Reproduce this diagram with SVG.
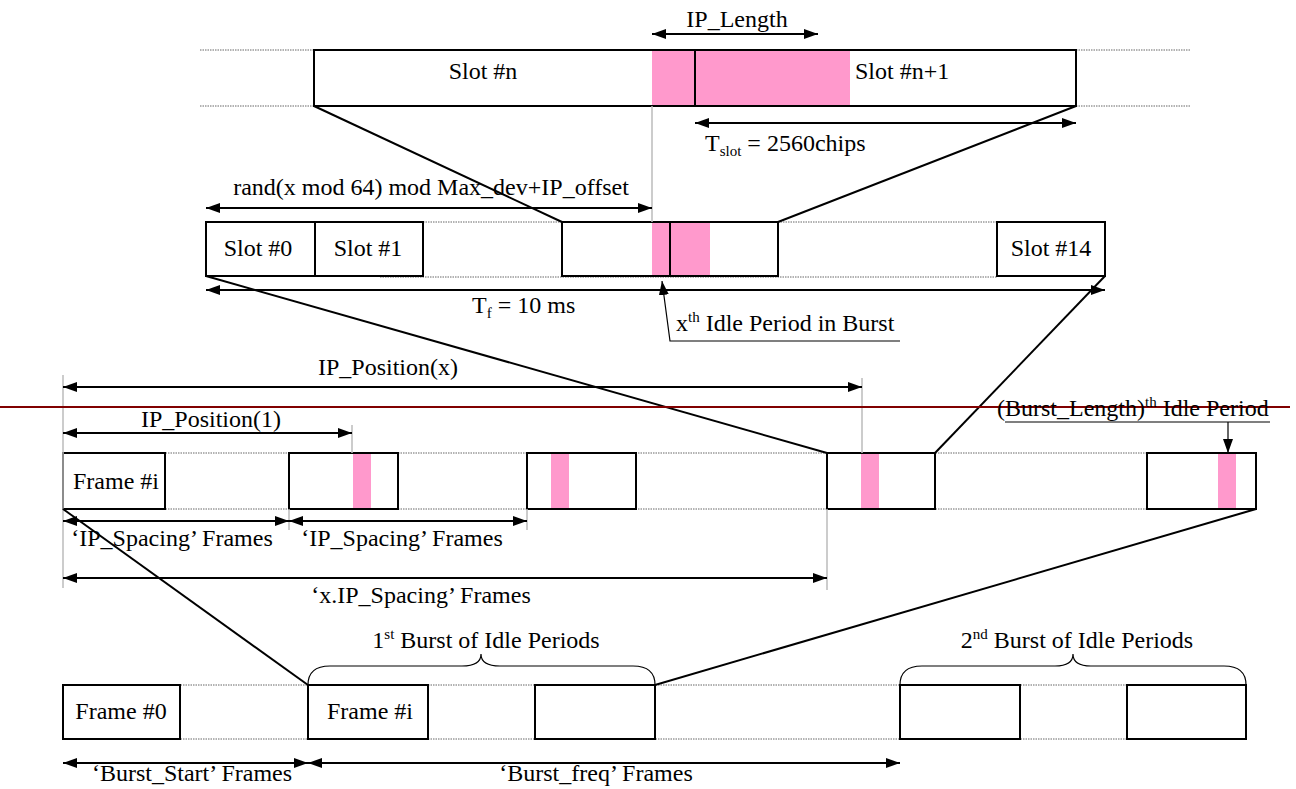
<svg xmlns="http://www.w3.org/2000/svg" width="1296" height="789" viewBox="0 0 1296 789">
<defs>
<marker id="ah" viewBox="0 0 14 10" refX="14" refY="5" markerWidth="14" markerHeight="10" markerUnits="userSpaceOnUse" orient="auto-start-reverse"><path d="M0,0 L14,5 L0,10 Z" fill="#000"/></marker>
<style>
text{font-family:"Liberation Serif","Times New Roman",serif;font-size:24px;fill:#000}
.sup{font-size:15px}
.box{fill:#fff;stroke:#000;stroke-width:2}
.pink{fill:#ff99cc;stroke:none}
.dot{stroke:#666;stroke-width:1;stroke-dasharray:1.5 1;fill:none}
.guide{stroke:#bbb;stroke-width:1.5;fill:none}
.conn{stroke:#000;stroke-width:2;fill:none}
.dim{stroke:#000;stroke-width:2;fill:none}
.thin{stroke:#000;stroke-width:1.2;fill:none}
</style>
</defs>
<rect width="1296" height="789" fill="#fff"/>

<!-- dotted guide lines -->
<g id="dotted">
<line class="dot" x1="200" y1="50" x2="314" y2="50"/>
<line class="dot" x1="200" y1="106" x2="314" y2="106"/>
<line class="dot" x1="1076" y1="50" x2="1190" y2="50"/>
<line class="dot" x1="1076" y1="106" x2="1190" y2="106"/>
<line class="dot" x1="423" y1="222" x2="997" y2="222"/>
<line class="dot" x1="380" y1="277" x2="997" y2="277"/>
<line class="dot" x1="63" y1="453" x2="1256" y2="453"/>
<line class="dot" x1="63" y1="509" x2="1256" y2="509"/>
<line class="dot" x1="63" y1="685" x2="1246" y2="685"/>
<line class="dot" x1="63" y1="739" x2="1246" y2="739"/>
</g>

<!-- top row -->
<g id="slot-n">
<rect class="box" x="314" y="50" width="762" height="56"/>
<rect class="pink" x="652" y="51" width="198" height="54"/>
<line x1="695" y1="50" x2="695" y2="106" stroke="#000" stroke-width="2"/>
<text x="483" y="79" text-anchor="middle">Slot #n</text>
<text x="855" y="79">Slot #n+1</text>
</g>

<!-- middle row -->
<g id="slot-0"><rect class="box" x="206" y="222" width="109" height="54"/><text x="258" y="256" text-anchor="middle">Slot #0</text></g>
<g id="slot-1"><rect class="box" x="315" y="222" width="108" height="54"/><text x="368" y="256" text-anchor="middle">Slot #1</text></g>
<g id="slot-mid">
<rect class="box" x="562" y="222" width="216" height="54"/>
<rect class="pink" x="652" y="223" width="58" height="52"/>
<line x1="670" y1="222" x2="670" y2="276" stroke="#000" stroke-width="2"/>
</g>
<g id="slot-14"><rect class="box" x="997" y="222" width="108" height="54"/><text x="1051" y="256" text-anchor="middle">Slot #14</text></g>

<!-- third row -->
<g id="frame-i"><rect class="box" x="63" y="453" width="102" height="56"/><text x="73" y="489">Frame #i</text></g>
<g id="frame-2"><rect class="box" x="289" y="453" width="109" height="56"/><rect class="pink" x="353" y="454" width="18" height="54"/></g>
<g id="frame-3"><rect class="box" x="527" y="453" width="109" height="56"/><rect class="pink" x="551" y="454" width="18" height="54"/></g>
<g id="frame-x"><rect class="box" x="827" y="453" width="108" height="56"/><rect class="pink" x="861" y="454" width="18" height="54"/></g>
<g id="frame-last"><rect class="box" x="1147" y="453" width="109" height="56"/><rect class="pink" x="1218" y="454" width="18" height="54"/></g>

<!-- bottom row -->
<g id="frame-0-b"><rect class="box" x="63" y="685" width="117" height="54"/><text x="121" y="719" text-anchor="middle">Frame #0</text></g>
<g id="frame-i-b"><rect class="box" x="308" y="685" width="120" height="54"/><text x="370" y="719" text-anchor="middle">Frame #i</text></g>
<g id="frame-b3"><rect class="box" x="535" y="685" width="120" height="54"/></g>
<g id="frame-b4"><rect class="box" x="900" y="685" width="120" height="54"/></g>
<g id="frame-b5"><rect class="box" x="1127" y="685" width="119" height="54"/></g>

<!-- grey guides -->
<g id="guides">
<line class="guide" x1="652" y1="106" x2="652" y2="222"/>
<line class="guide" x1="63" y1="375" x2="63" y2="588"/>
<line class="guide" x1="352" y1="425" x2="352" y2="453"/>
<line class="guide" x1="862" y1="378" x2="862" y2="453"/>
<line class="guide" x1="289" y1="509" x2="289" y2="530"/>
<line class="guide" x1="527" y1="509" x2="527" y2="530"/>
<line class="guide" x1="827" y1="509" x2="827" y2="590"/>
</g>

<!-- connectors -->
<g id="connectors">
<line class="conn" x1="314" y1="106" x2="562" y2="222"/>
<line class="conn" x1="1076" y1="106" x2="778" y2="222"/>
<line class="conn" x1="206" y1="276" x2="827" y2="453"/>
<line class="conn" x1="1105" y1="276" x2="935" y2="453"/>
<line class="conn" x1="63" y1="509" x2="308" y2="685"/>
<line class="conn" x1="1256" y1="509" x2="655" y2="685"/>
<line x1="0" y1="407" x2="1290" y2="407" stroke="#800000" stroke-width="2"/>
</g>

<!-- dimension arrows -->
<g id="dimensions">
<line class="dim" x1="652" y1="34" x2="818" y2="34" marker-start="url(#ah)" marker-end="url(#ah)"/>
<text x="737" y="27" text-anchor="middle">IP_Length</text>
<line class="dim" x1="695" y1="123" x2="1076" y2="123" marker-start="url(#ah)" marker-end="url(#ah)"/>
<text x="705" y="151">T<tspan class="sup" dy="5">slot</tspan><tspan dy="-5"> = 2560chips</tspan></text>
<line class="dim" x1="206" y1="208" x2="652" y2="208" marker-start="url(#ah)" marker-end="url(#ah)"/>
<text x="431" y="195" text-anchor="middle">rand(x mod 64) mod Max_dev+IP_offset</text>
<line class="dim" x1="206" y1="290" x2="1105" y2="290" marker-start="url(#ah)" marker-end="url(#ah)"/>
<text x="472" y="313">T<tspan class="sup" dy="5">f</tspan><tspan dy="-5"> = 10 ms</tspan></text>
<line class="dim" x1="63" y1="387" x2="862" y2="387" marker-start="url(#ah)" marker-end="url(#ah)"/>
<text x="388" y="375" text-anchor="middle">IP_Position(x)</text>
<line class="dim" x1="63" y1="433" x2="352" y2="433" marker-start="url(#ah)" marker-end="url(#ah)"/>
<text x="211" y="427" text-anchor="middle">IP_Position(1)</text>
<line class="dim" x1="63" y1="521" x2="289" y2="521" marker-start="url(#ah)" marker-end="url(#ah)"/>
<text x="172" y="546" text-anchor="middle">‘IP_Spacing’ Frames</text>
<line class="dim" x1="289" y1="521" x2="527" y2="521" marker-start="url(#ah)" marker-end="url(#ah)"/>
<text x="402" y="546" text-anchor="middle">‘IP_Spacing’ Frames</text>
<line class="dim" x1="63" y1="578" x2="827" y2="578" marker-start="url(#ah)" marker-end="url(#ah)"/>
<text x="421" y="603" text-anchor="middle">‘x.IP_Spacing’ Frames</text>
<line class="dim" x1="63" y1="763" x2="308" y2="763" marker-start="url(#ah)" marker-end="url(#ah)"/>
<text x="192" y="781" text-anchor="middle">‘Burst_Start’ Frames</text>
<line class="dim" x1="308" y1="763" x2="900" y2="763" marker-start="url(#ah)" marker-end="url(#ah)"/>
<text x="596" y="781" text-anchor="middle">‘Burst_freq’ Frames</text>
</g>

<!-- callouts -->
<g id="callouts">
<polyline class="thin" points="900,341 670,341 662,281" marker-end="url(#ah)"/>
<text x="676" y="331">x<tspan class="sup" dy="-9">th</tspan><tspan dy="9"> Idle Period in Burst</tspan></text>
<line class="thin" x1="1005" y1="422" x2="1270" y2="422"/>
<line class="thin" x1="1228" y1="422" x2="1228" y2="453" marker-end="url(#ah)"/>
<text x="997" y="416">(Burst_Length)<tspan class="sup" dy="-9">th</tspan><tspan dy="9"> Idle Period</tspan></text>
</g>

<!-- braces -->
<g id="braces">
<path class="thin" stroke-width="1.5" d="M308,685 Q308,666 330,666 L462,666 Q481,666 481,654 Q481,666 500,666 L633,666 Q655,666 655,685"/>
<text x="486" y="648" text-anchor="middle">1<tspan class="sup" dy="-9">st</tspan><tspan dy="9"> Burst of Idle Periods</tspan></text>
<path class="thin" stroke-width="1.5" d="M900,685 Q900,666 922,666 L1055,666 Q1073,666 1073,654 Q1073,666 1091,666 L1224,666 Q1246,666 1246,685"/>
<text x="1077" y="648" text-anchor="middle">2<tspan class="sup" dy="-9">nd</tspan><tspan dy="9"> Burst of Idle Periods</tspan></text>
</g>
</svg>
